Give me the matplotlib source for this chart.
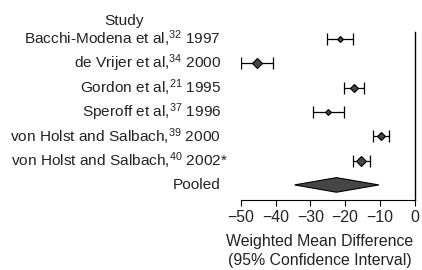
import matplotlib
matplotlib.use("Agg")
import matplotlib.pyplot as plt
import matplotlib.transforms as mtransforms
from matplotlib.patches import Polygon

plt.rcParams['font.family'] = ['Liberation Sans', 'DejaVu Sans']
plt.rcParams['mathtext.fontset'] = 'custom'
plt.rcParams['mathtext.rm'] = 'Liberation Sans'
plt.rcParams['mathtext.it'] = 'Liberation Sans'

# ---- data ----
studies = ["Bacchi-Modena et al,$^{32}$ 1997",
           "de Vrijer et al,$^{34}$ 2000",
           "Gordon et al,$^{21}$ 1995",
           "Speroff et al,$^{37}$ 1996",
           "von Holst and Salbach,$^{39}$ 2000",
           "von Holst and Salbach,$^{40}$ 2002"]
est = [-21.4, -45.3, -17.4, -24.8, -9.7, -15.3]
lo = [-25.1, -50.0, -20.4, -29.3, -12.0, -17.8]
hi = [-17.6, -40.8, -14.5, -20.4, -7.5, -12.9]
weights = [3.0, 5.0, 3.6, 3.0, 4.0, 5.0]  # marker size (study weight)
pooled_est = -22.5
pooled_lo = -34.5
pooled_hi = -10.3
xticks = [-50, -40, -30, -20, -10, 0]

W, H = 422, 270
fig = plt.figure(figsize=(W / 100, H / 100), dpi=100)
ax = fig.add_axes([240.7 / W, 1 - 200 / H, 174 / W, 168 / H])

fs = 11.1
tc = '#222222'
for i in range(len(studies)):
    ax.errorbar(est[i], i, xerr=[[est[i] - lo[i]], [hi[i] - est[i]]],
                fmt='none', ecolor='black', elinewidth=0.9, capsize=4.3,
                capthick=0.9, zorder=2)
    ax.plot(est[i], i, marker='D', markersize=weights[i], color='#464646',
            markeredgecolor='black', markeredgewidth=0.8, zorder=3)

yp = len(studies)
hh = 0.3
ax.add_patch(Polygon([[pooled_lo, yp], [pooled_est, yp - hh], [pooled_hi, yp],
                      [pooled_est, yp + hh]], closed=True,
                     facecolor='#464646', edgecolor='black', lw=0.8, zorder=3))

ax.set_xlim(-50, 0)
ax.set_ylim(6.62, -0.29)
ax.set_xticks(xticks)
ax.set_xticklabels([f"\u2212{abs(t)}" if t < 0 else str(t) for t in xticks],
                   fontsize=11.4, color=tc)
ax.tick_params(axis='x', direction='out', length=4.5, width=0.8, pad=3)
ax.set_yticks([])
for s in ['left', 'top']:
    ax.spines[s].set_visible(False)
ax.spines['right'].set_linewidth(1.0)
ax.spines['bottom'].set_linewidth(0.8)
ax.spines['bottom'].set_bounds(-50, 0)
ax.patch.set_visible(False)

trans = mtransforms.blended_transform_factory(fig.transFigure, ax.transData)
xl = 221 / W
for i, s in enumerate(studies):
    ax.text(xl, i, s, transform=trans, ha='right', va='center', fontsize=fs,
            color=tc)
ax.text(xl, len(studies) - 1, "*", transform=trans, ha='left', va='center',
        fontsize=fs, color=tc)
ax.text(xl, yp, "Pooled", transform=trans, ha='right', va='center',
        fontsize=fs, color=tc)
fig.text(124 / W, 1 - 21 / H, "Study", ha='center', va='center', fontsize=fs,
         color=tc)

fig.text(320 / W, 1 - 241.5 / H, "Weighted Mean Difference", ha='center',
         va='center', fontsize=11.4, color=tc)
fig.text(320 / W, 1 - 260 / H, "(95% Confidence Interval)", ha='center',
         va='center', fontsize=11.4, color=tc)

fig.savefig("out.png", dpi=100)
